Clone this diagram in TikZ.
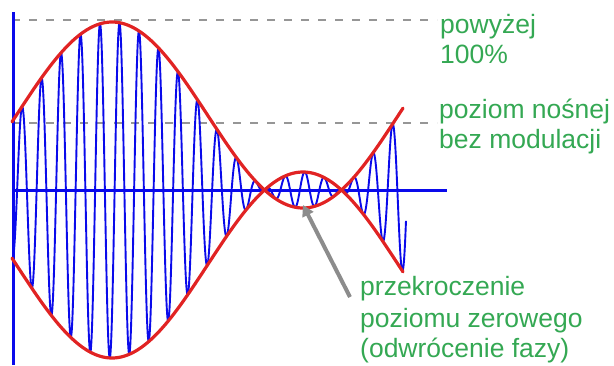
\documentclass[tikz,border=0pt]{standalone}
\usepackage{fontspec}
\setmainfont{Liberation Sans}
\usetikzlibrary{arrows.meta}
\definecolor{txtgreen}{RGB}{52,168,83}
\definecolor{sigblue}{RGB}{10,10,235}
\definecolor{envred}{RGB}{225,35,35}
\definecolor{dashgrey}{RGB}{150,150,150}
\definecolor{arrgrey}{RGB}{140,140,140}
\tikzset{
  lbl/.style={anchor=base west, inner sep=0pt, text=txtgreen, font=\fontsize{26.5}{31}\selectfont},
  refline/.style={draw=dashgrey, line width=1.8pt, dash pattern=on 8pt off 9pt},
  axisline/.style={draw=sigblue, line width=3pt},
  carrier/.style={draw=sigblue, line width=1.9pt, line join=round},
  envelope/.style={draw=envred, line width=3.2pt, line join=round, line cap=round},
  pointer/.style={draw=arrgrey, line width=4pt, -{Triangle[length=11pt,width=12pt]}}
}
\begin{document}
\begin{tikzpicture}[x=1pt,y=-1pt]
\useasboundingbox (0,0) rectangle (614,365);
% reference levels
\coordinate (d1s) at (12,20); \coordinate (d1e) at (437,20);
\coordinate (d2s) at (12,123); \coordinate (d2e) at (437,123);
\draw[refline] (d1s) -- (d1e);
\draw[refline] (d2s) -- (d2e);
% modulated carrier
\draw[carrier] plot[domain=12:406, samples=1200]
  (\x, {190 - (75 + 93*cos(0.942408*(\x-112)))*cos(18.461538*(\x-22))});
% axes
\coordinate (ox) at (12,190); \coordinate (xe) at (447,190);
\coordinate (yt) at (13,12); \coordinate (yb) at (13,365);
\draw[axisline] (ox) -- (xe);
\draw[axisline] (yt) -- (yb);
% envelope
\draw[envelope] plot[domain=12:403, samples=200]
  (\x, {190 - (75 + 93*cos(0.942408*(\x-112)))});
\draw[envelope] plot[domain=12:403, samples=200]
  (\x, {190 + (75 + 93*cos(0.942408*(\x-112)))});
% labels
\node[lbl] (l1) at (440,33) {powyżej};
\node[lbl] (l2) at (440,63) {100\%};
\node[lbl] (l3) at (439,118) {poziom nośnej};
\node[lbl] (l4) at (439,148) {bez modulacji};
\node[lbl] (l5) at (360,295) {przekroczenie};
\node[lbl] (l6) at (360,327) {poziomu zerowego};
\node[lbl] (l7) at (360,357) {(odwrócenie fazy)};
% pointer
\coordinate (ps) at (350,297);
\coordinate (pe) at (303,205);
\draw[pointer] (ps) -- (pe);
\end{tikzpicture}
\end{document}
